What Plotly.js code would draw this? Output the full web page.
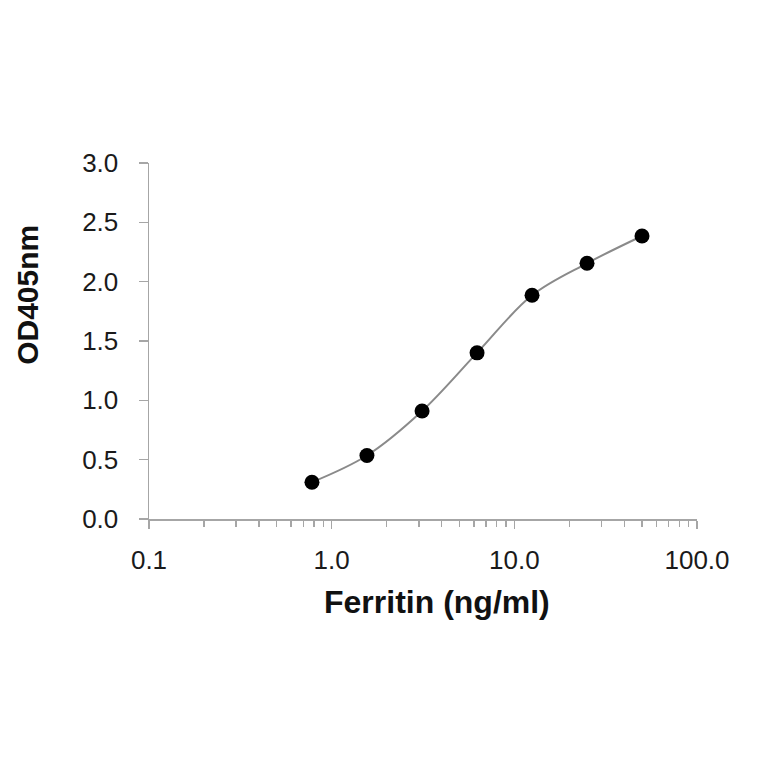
<!DOCTYPE html>
<html>
<head>
<meta charset="utf-8">
<script src="https://cdn.plot.ly/plotly-3.0.1.min.js"></script>
<style>
  html, body { margin: 0; padding: 0; background: #fff; }
  #chart { width: 764px; height: 764px; }
</style>
</head>
<body>
<div id="chart"></div>
<script>
// standard curve, doubling dilutions
const ferritin = [0.78, 1.56, 3.125, 6.25, 12.5, 25, 50];
const od405 = [0.31, 0.535, 0.91, 1.40, 1.885, 2.155, 2.385];

const xTickVals = [0.1, 1, 10, 100];
const xTickText = ["0.1", "1.0", "10.0", "100.0"];
const yTickVals = [0, 0.5, 1.0, 1.5, 2.0, 2.5, 3.0];

const axisGray = "#a6a6a6";
const textFont = "Liberation Sans, Arial, sans-serif";

var trace = {
  x: ferritin,
  y: od405,
  type: "scatter",
  mode: "lines+markers",
  line: { shape: "spline", smoothing: 1, color: "#8a8a8a", width: 2 },
  marker: { color: "#000", size: 15 },
  hoverinfo: "x+y"
};

var layout = {
  width: 764,
  height: 764,
  margin: { l: 149, r: 67, t: 163, b: 245 },
  paper_bgcolor: "#fff",
  plot_bgcolor: "#fff",
  showlegend: false,
  font: { family: textFont, color: "#1a1a1a", size: 26 },
  xaxis: {
    type: "log",
    range: [-1, 2],
    tickvals: xTickVals,
    ticktext: xTickText,
    ticks: "outside",
    ticklen: 8,
    tickwidth: 1.5,
    tickcolor: axisGray,
    showline: true,
    linecolor: axisGray,
    linewidth: 1.5,
    showgrid: false,
    zeroline: false,
    ticklabelstandoff: 9,
    minor: { ticks: "outside", ticklen: 6, tickwidth: 1.5, tickcolor: axisGray, dtick: "D1", showgrid: false }
  },
  yaxis: {
    range: [0, 3],
    tickvals: yTickVals,
    tickformat: ".1f",
    ticks: "outside",
    ticklen: 9,
    tickwidth: 1.5,
    tickcolor: axisGray,
    showline: true,
    linecolor: axisGray,
    linewidth: 1.5,
    showgrid: false,
    zeroline: false,
    ticklabelstandoff: 15
  },
  annotations: [
    {
      text: "<b>Ferritin (ng/ml)</b>",
      xref: "paper", yref: "paper",
      x: 0.525, y: -0.233,
      xanchor: "center", yanchor: "middle",
      showarrow: false,
      font: { size: 32, family: textFont, color: "#111" }
    },
    {
      text: "<b>OD405nm</b>",
      xref: "paper", yref: "paper",
      x: -0.223, y: 0.629,
      xanchor: "center", yanchor: "middle",
      textangle: -90,
      showarrow: false,
      font: { size: 30, family: textFont, color: "#111" }
    }
  ]
};

Plotly.newPlot("chart", [trace], layout, { displayModeBar: false, staticPlot: true });
</script>
</body>
</html>
